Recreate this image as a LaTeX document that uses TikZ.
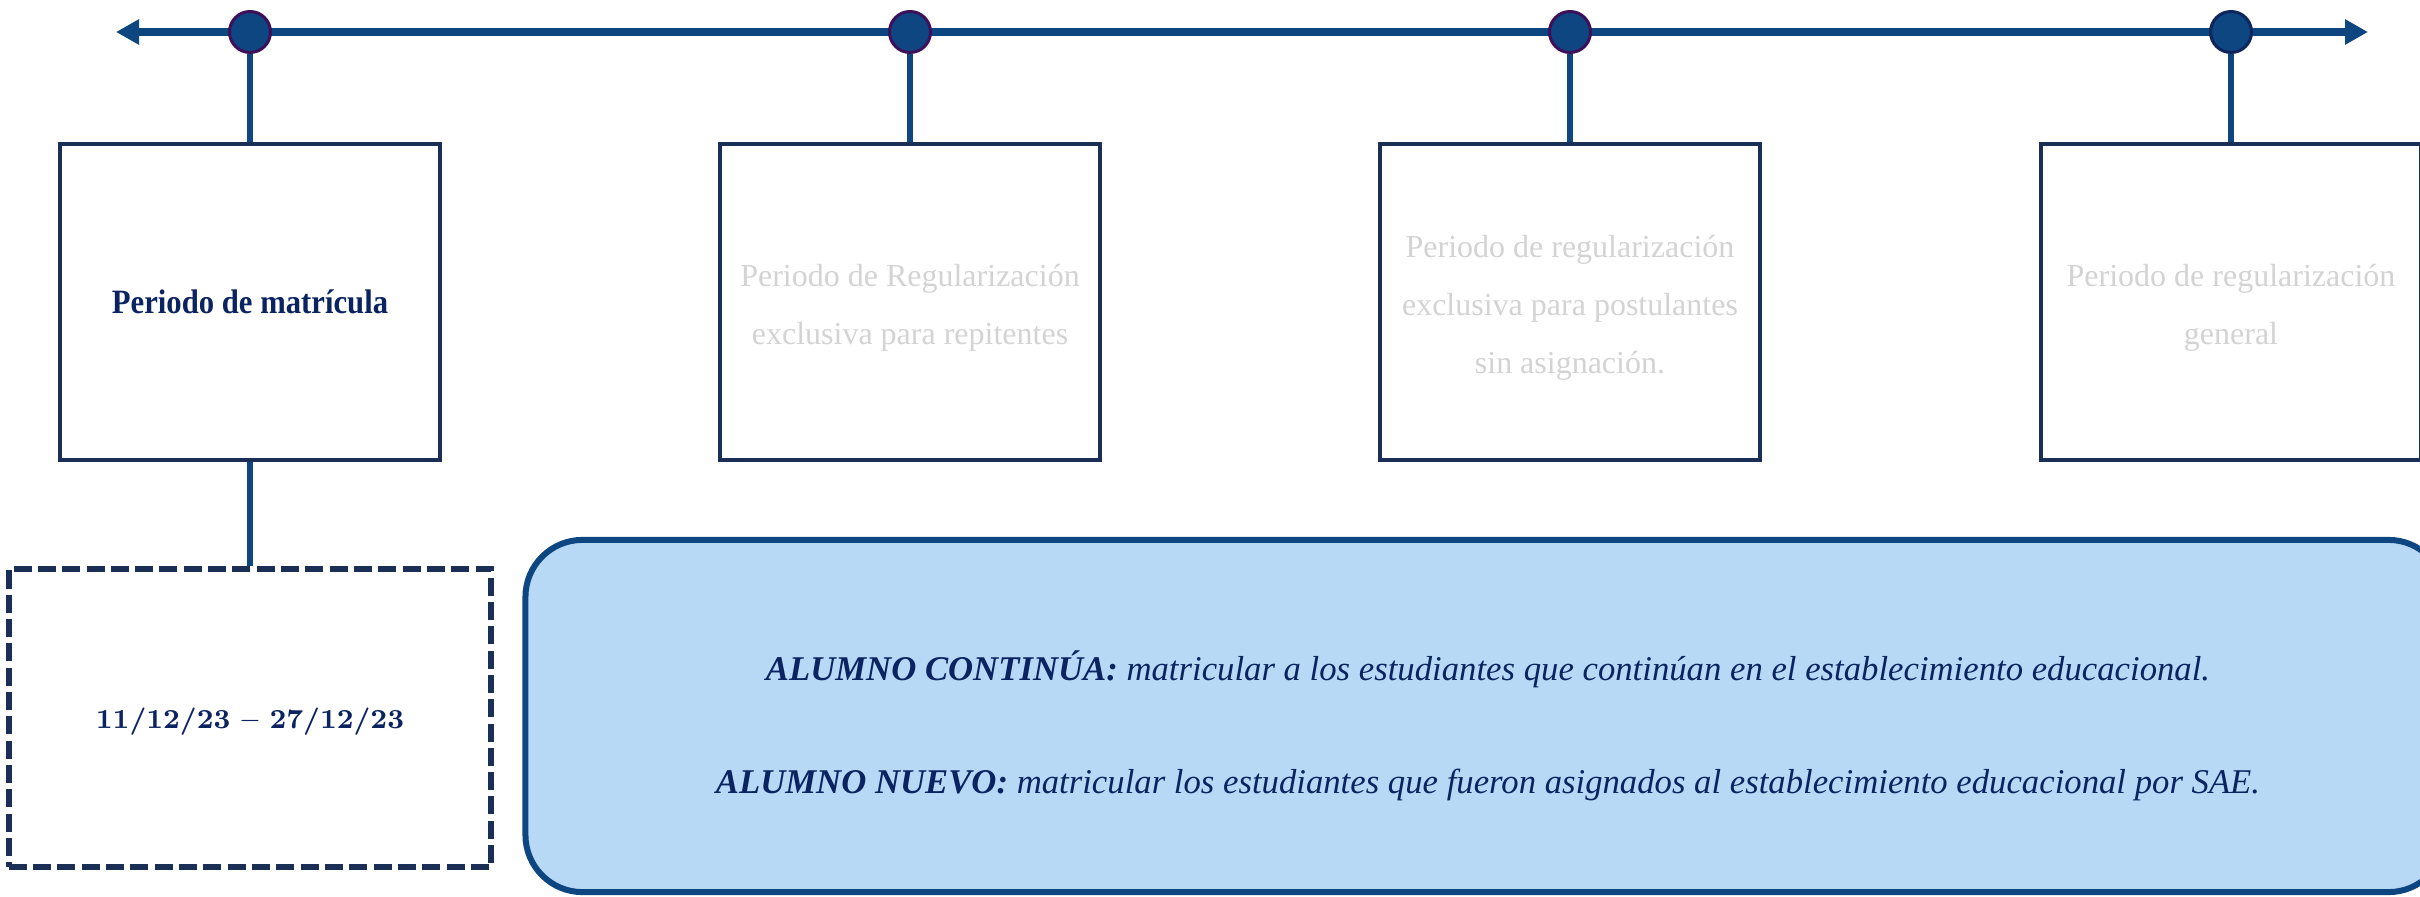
\documentclass[tikz,border=0pt]{standalone}
\usepackage{fontspec}
\newfontfamily\tnr{Liberation Serif}
\newfontfamily\tnrcond{Liberation Serif}[FakeStretch=0.9]
\usetikzlibrary{arrows.meta}
\definecolor{tl}{RGB}{13,70,128}
\definecolor{ringc}{RGB}{61,16,92}
\definecolor{ringd}{RGB}{14,37,94}
\definecolor{boxc}{RGB}{27,46,85}
\definecolor{bluefill}{RGB}{184,217,246}
\definecolor{navytext}{RGB}{11,36,97}
\definecolor{greytext}{RGB}{211,211,211}
\newcommand{\upstrut}{\rule{0pt}{9.4pt}}
\tikzset{
  dot/.style={circle, minimum size=0.41cm, inner sep=0pt, fill=tl, draw=ringc, line width=0.03cm},
  stem/.style={draw=tl, line width=0.06cm},
  period/.style={draw=boxc, line width=0.045cm, minimum width=3.8cm, minimum height=3.16cm, inner sep=0pt, align=center},
  greyfont/.style={font=\tnr\fontsize{9.1}{16.5}\selectfont, text=greytext},
  datebox/.style={draw=boxc, line width=0.06cm, dash pattern=on 0.18cm off 0.063cm, minimum width=4.82cm, minimum height=2.98cm, inner sep=0pt, align=center},
  infobox/.style={draw=tl, fill=bluefill, line width=0.06cm, rounded corners=0.57cm, minimum width=19.19cm, minimum height=3.52cm, inner sep=0pt},
  infotext/.style={anchor=base, inner sep=0pt, text=navytext, font=\tnr\itshape\fontsize{9.87}{12}\selectfont}
}
\begin{document}
\begin{tikzpicture}[x=0.01cm, y=-0.01cm]
\useasboundingbox (0,0) rectangle (2420,897);
% timeline
\coordinate (L) at (116,32);
\coordinate (R) at (2368,32);
\draw[tl, line width=0.08cm, {Triangle[length=0.23cm,width=0.24cm]}-{Triangle[length=0.23cm,width=0.24cm]}] (L) -- (R);
% dots
\node[dot] (c1) at (250,32) {};
\node[dot] (c2) at (910,32) {};
\node[dot] (c3) at (1570,32) {};
\node[dot, draw=ringd] (c4) at (2231,32) {};
% period boxes
\node[period, text=navytext, font=\tnrcond\bfseries\fontsize{9.7}{12}\selectfont] (b1) at (250,302) {Periodo de matrícula};
\node[period, greyfont] (b2) at (910,302) {\upstrut Periodo de Regularización\\exclusiva para repitentes};
\node[period, greyfont] (b3) at (1570,302) {\upstrut Periodo de regularización\\exclusiva para postulantes\\sin asignación.};
\node[period, greyfont] (b4) at (2231,302) {\upstrut Periodo de regularización\\general};
% stems
\draw[stem] (c1) -- (b1);
\draw[stem] (c2) -- (b2);
\draw[stem] (c3) -- (b3);
\draw[stem] (c4) -- (b4);
% date box
\node[datebox, text=navytext, font=\bfseries\fontsize{7.8}{10}\selectfont, text height=8.1pt, text depth=1.95pt] (d1) at (250,718) {11/12/23 -- 27/12/23};
\draw[stem] (b1) -- (d1);
% info box
\node[infobox] (info) at (1485.5,716) {};
\node[infotext] (t1) at (1488,680) {\textbf{ALUMNO CONTINÚA:} matricular a los estudiantes que continúan en el establecimiento educacional.};
\node[infotext] (t2) at (1488,793) {\textbf{ALUMNO NUEVO:} matricular los estudiantes que fueron asignados al establecimiento educacional por SAE.};
\end{tikzpicture}
\end{document}
